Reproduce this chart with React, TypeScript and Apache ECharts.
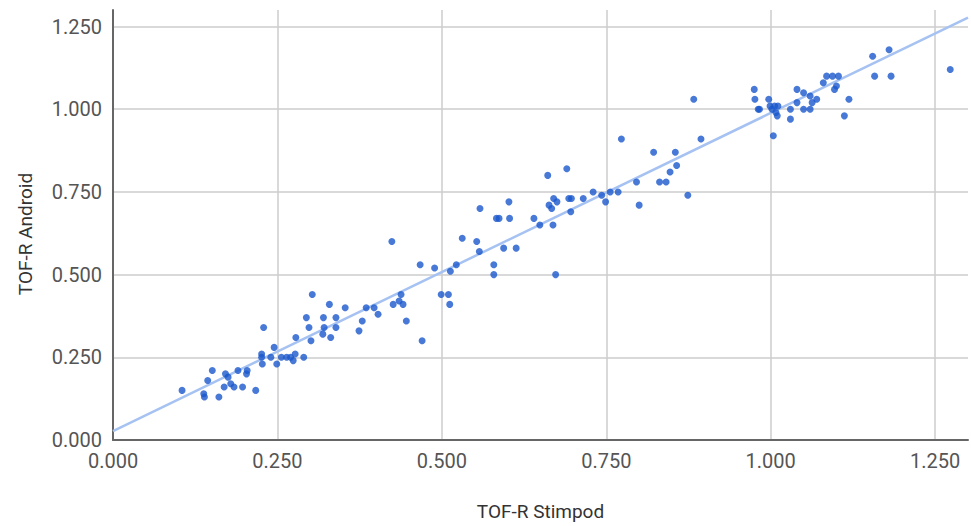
import React, { useEffect, useRef } from "react";
import * as echarts from "echarts";

const xTicks = [0, 0.25, 0.5, 0.75, 1.0, 1.25];
const axisMax = 1.3;
const xName = "TOF-R Stimpod";
const yName = "TOF-R Android";

const stimpodAndroid: number[][] = [
  [0.105, 0.15], [0.138, 0.14], [0.139, 0.13], [0.144, 0.18], [0.151, 0.21], [0.161, 0.13],
  [0.169, 0.16], [0.171, 0.2], [0.175, 0.19], [0.179, 0.17], [0.184, 0.16], [0.19, 0.21],
  [0.197, 0.16], [0.203, 0.2], [0.204, 0.21], [0.217, 0.15], [0.229, 0.34], [0.226, 0.26],
  [0.226, 0.25], [0.227, 0.23], [0.24, 0.25], [0.245, 0.28], [0.249, 0.23], [0.256, 0.25],
  [0.264, 0.25], [0.27, 0.25], [0.274, 0.24], [0.277, 0.26], [0.278, 0.31], [0.29, 0.25],
  [0.294, 0.37], [0.298, 0.34], [0.301, 0.3], [0.303, 0.44], [0.32, 0.37], [0.321, 0.34],
  [0.319, 0.32], [0.331, 0.31], [0.339, 0.37], [0.339, 0.34], [0.329, 0.41], [0.353, 0.4],
  [0.374, 0.33], [0.379, 0.36], [0.385, 0.4], [0.397, 0.4], [0.403, 0.38], [0.424, 0.6],
  [0.426, 0.41], [0.435, 0.42], [0.438, 0.44], [0.441, 0.41], [0.446, 0.36], [0.467, 0.53],
  [0.47, 0.3], [0.489, 0.52], [0.499, 0.44], [0.51, 0.44], [0.512, 0.41], [0.513, 0.51],
  [0.522, 0.53], [0.531, 0.61], [0.553, 0.6], [0.557, 0.57], [0.558, 0.7], [0.579, 0.53],
  [0.579, 0.5], [0.583, 0.67], [0.587, 0.67], [0.594, 0.58], [0.602, 0.72], [0.603, 0.67],
  [0.613, 0.58], [0.64, 0.67], [0.649, 0.65], [0.661, 0.8], [0.663, 0.71], [0.667, 0.7],
  [0.67, 0.73], [0.675, 0.72], [0.669, 0.65], [0.673, 0.5], [0.69, 0.82], [0.693, 0.73],
  [0.697, 0.73], [0.696, 0.69], [0.715, 0.73], [0.73, 0.75], [0.743, 0.74], [0.749, 0.72],
  [0.756, 0.75], [0.768, 0.75], [0.773, 0.91], [0.796, 0.78], [0.8, 0.71], [0.822, 0.87],
  [0.831, 0.78], [0.841, 0.78], [0.847, 0.81], [0.855, 0.87], [0.857, 0.83], [0.874, 0.74],
  [0.883, 1.03], [0.894, 0.91],
  [0.975, 1.06], [0.976, 1.03], [0.981, 1.0], [0.983, 1.0], [0.997, 1.03], [0.999, 1.01],
  [1.002, 1.0], [1.004, 0.92], [1.006, 1.01], [1.008, 0.99], [1.01, 0.98], [1.011, 1.01],
  [1.03, 1.0], [1.03, 0.97], [1.04, 1.06], [1.04, 1.02], [1.05, 1.05], [1.05, 1.0],
  [1.06, 1.04], [1.06, 1.0], [1.063, 1.02], [1.07, 1.03], [1.08, 1.08], [1.085, 1.1],
  [1.094, 1.1], [1.103, 1.1], [1.097, 1.06], [1.1, 1.07], [1.112, 0.98], [1.119, 1.03],
  [1.155, 1.16], [1.158, 1.1], [1.18, 1.18], [1.183, 1.1], [1.273, 1.12],
];

const trendline: number[][] = [
  [0, 0.027],
  [1.3, 1.277],
];

export default function App() {
  const ref = useRef<HTMLDivElement>(null);
  useEffect(() => {
    if (!ref.current) return;
    const chart = echarts.init(ref.current, null, { renderer: "svg" });
    const labelStyle = {
      color: "#555",
      fontSize: 20,
      fontFamily: "Roboto, Arial, sans-serif",
      formatter: (v: number) => v.toFixed(3),
    };
    const axisCommon = {
      type: "value" as const,
      min: 0,
      max: axisMax,
      interval: xTicks[1] - xTicks[0],
      axisTick: { show: false },
      axisLine: { show: true, lineStyle: { color: "#666", width: 2 } },
      splitLine: {
        show: true,
        showMinLine: false,
        showMaxLine: false,
        lineStyle: { color: "#cccccc", width: 1.5 },
      },
      nameLocation: "middle" as const,
    };
    const nameStyle = {
      color: "#333",
      fontSize: 19,
      fontFamily: "Roboto, Arial, sans-serif",
    };
    chart.setOption({
      animation: false,
      backgroundColor: "#fff",
      grid: { left: 113, right: 3, top: 10, bottom: 84, containLabel: false },
      xAxis: {
        ...axisCommon,
        name: xName,
        nameGap: 62,
        nameTextStyle: nameStyle,
        axisLabel: { ...labelStyle, margin: 11, showMaxLabel: false },
      },
      yAxis: {
        ...axisCommon,
        name: yName,
        nameGap: 78,
        nameTextStyle: { ...nameStyle, padding: [0, 18, 0, 0] },
        axisLabel: { ...labelStyle, margin: 11, showMaxLabel: false },
      },
      series: [
        {
          type: "line",
          data: trendline,
          symbol: "none",
          lineStyle: { color: "#a6c2f2", width: 2.5 },
          z: 1,
          silent: true,
        },
        {
          type: "scatter",
          data: stimpodAndroid,
          symbolSize: 7,
          itemStyle: { color: "#1a57cc" },
          z: 2,
        },
      ],
    });
    return () => chart.dispose();
  }, []);
  return (
    <div
      ref={ref}
      style={{ position: "fixed", left: 0, top: 0, width: 971, height: 526 }}
    />
  );
}
